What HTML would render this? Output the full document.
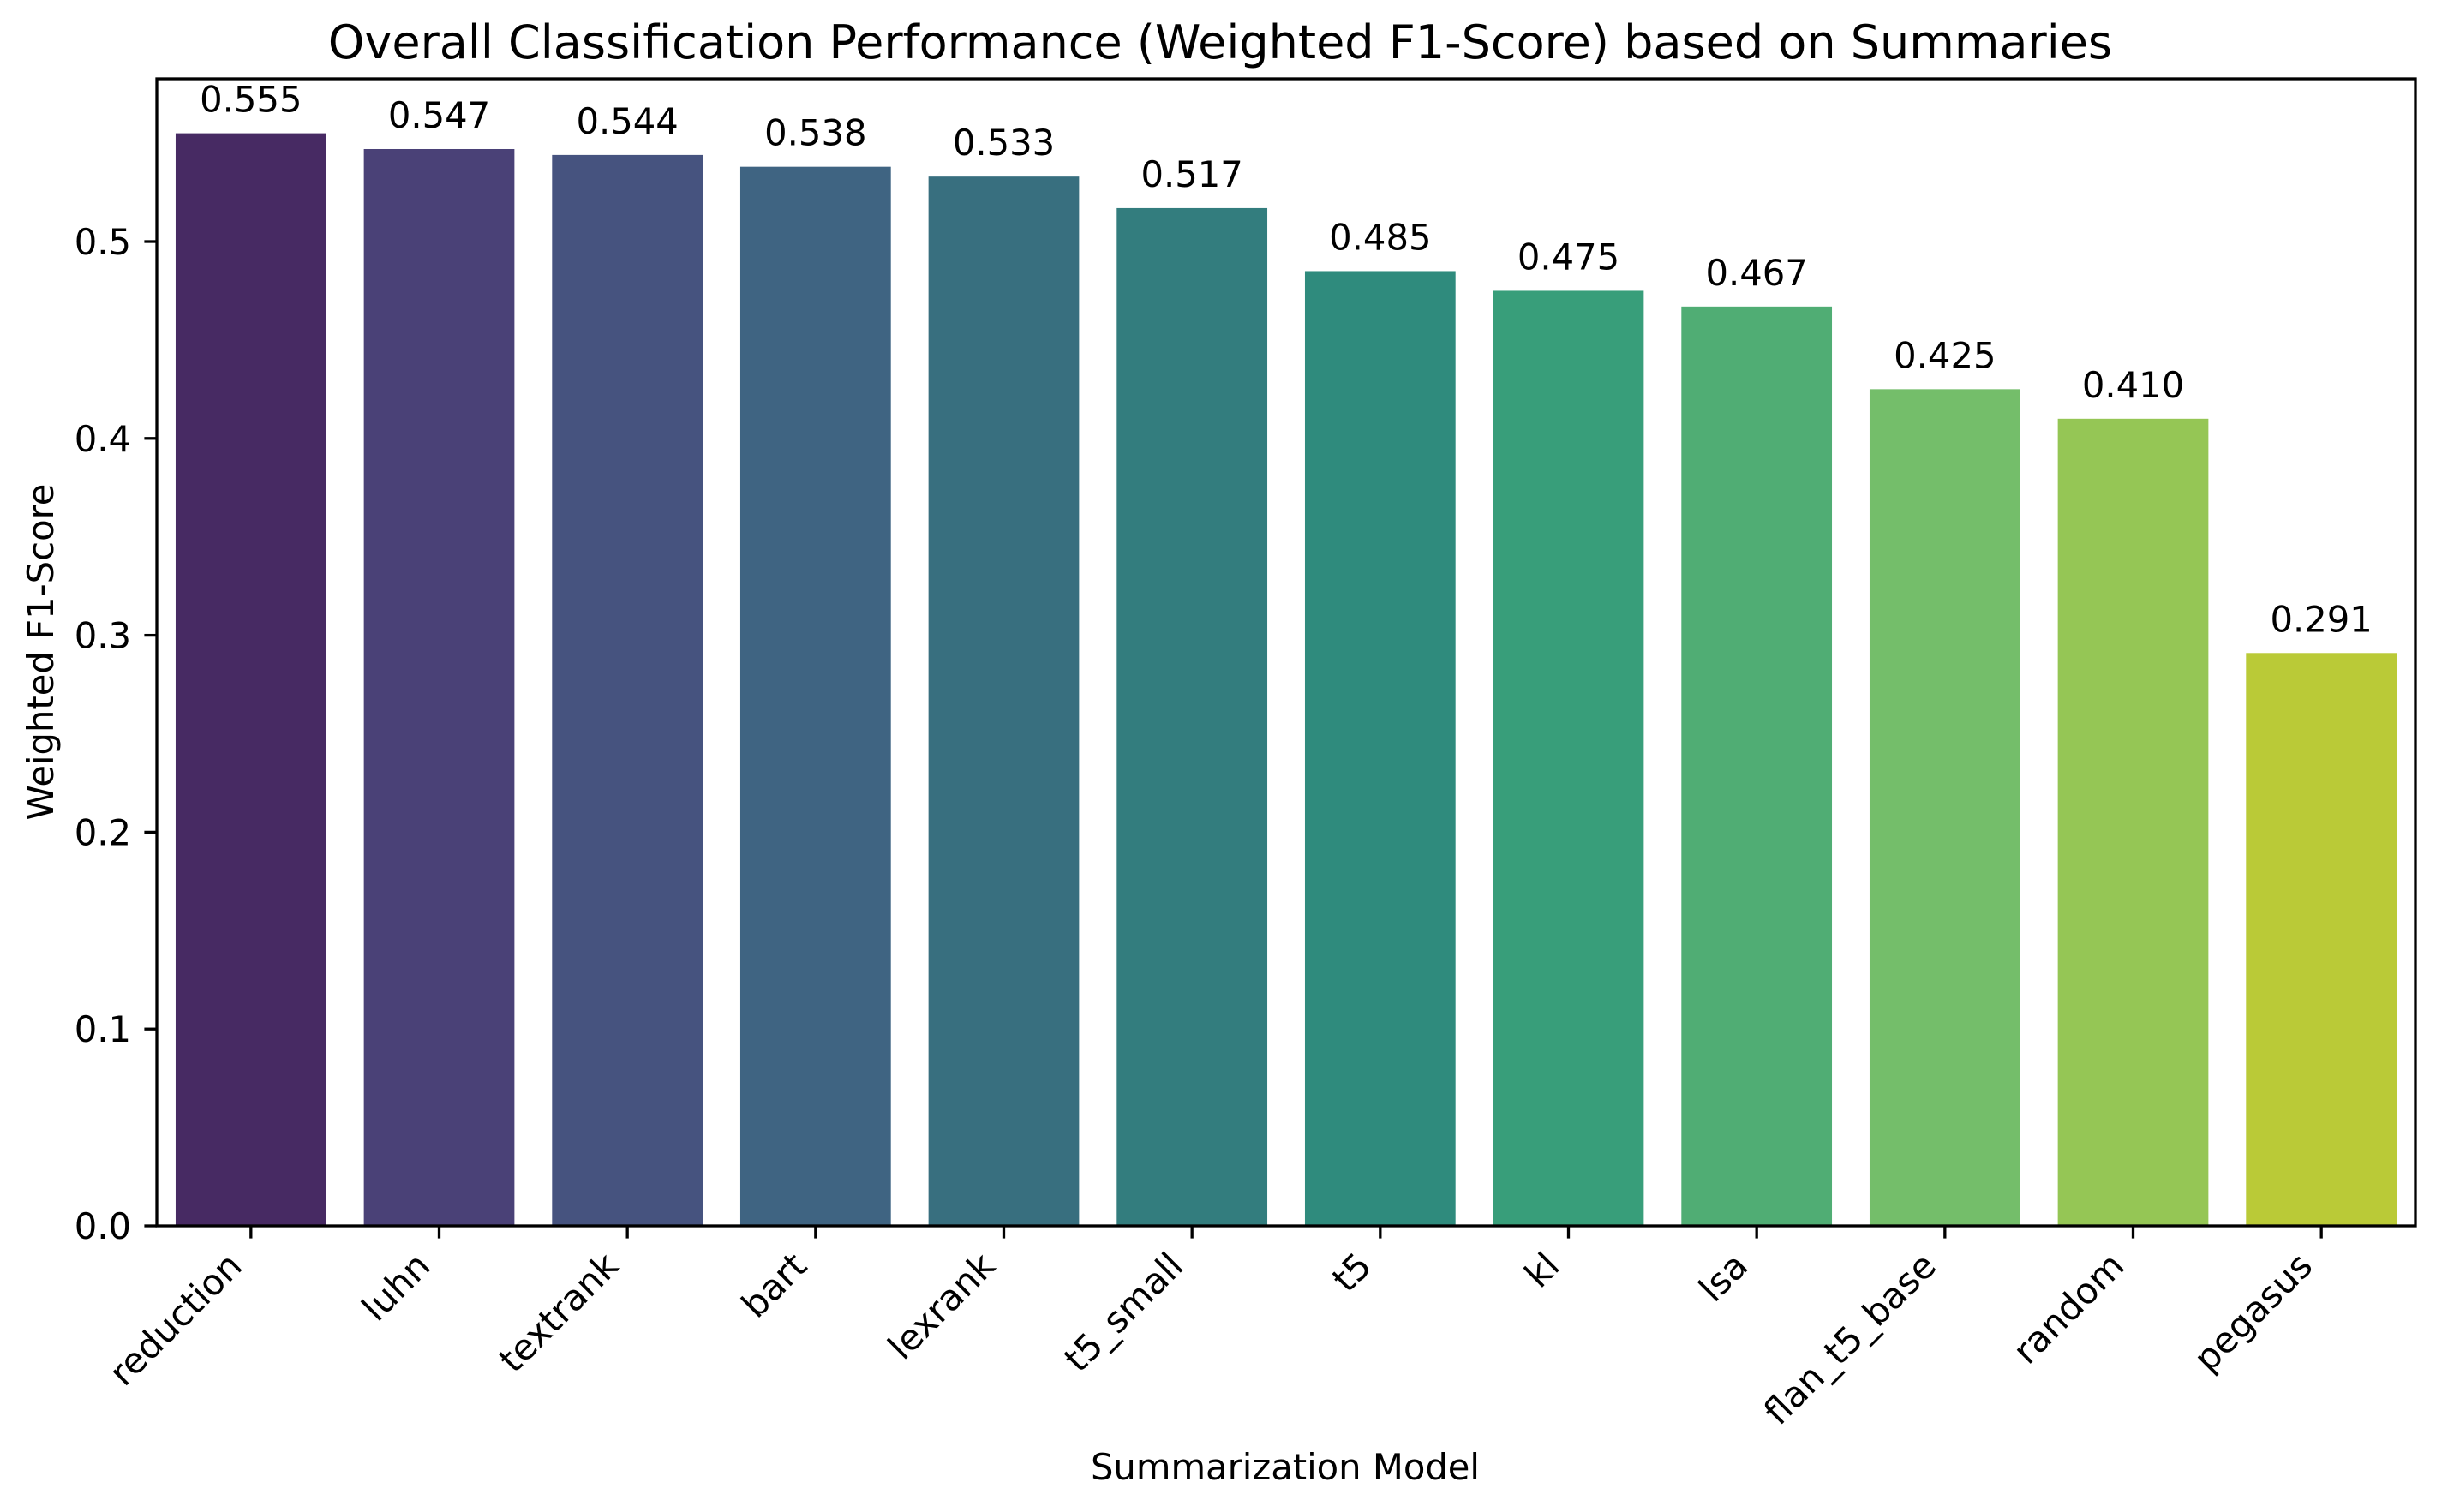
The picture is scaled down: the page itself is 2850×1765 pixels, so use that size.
<!DOCTYPE html>
<html><head><meta charset="utf-8"><style>
html,body{margin:0;padding:0;background:#fff;}
svg{display:block;font-family:"DejaVu Sans","Liberation Sans",sans-serif;}
</style></head><body>
<svg id="chart" width="2850" height="1765" viewBox="0 0 2850 1765" xmlns="http://www.w3.org/2000/svg">
<rect x="0" y="0" width="2850" height="1765" fill="#ffffff"/>
<text x="1424" y="68" font-size="54" text-anchor="middle" fill="#000">Overall Classification Performance (Weighted F1-Score) based on Summaries</text>
<text transform="translate(62,761) rotate(-90)" font-size="41.7" text-anchor="middle" fill="#000">Weighted F1-Score</text>
<text x="1500" y="1727" font-size="41.7" text-anchor="middle" fill="#000">Summarization Model</text>
<g id="bars"></g>
<g id="yaxis"></g>
<g id="xaxis"></g>
<g id="labels"></g>
<rect x="183" y="92" width="2636" height="1339" fill="none" stroke="#000" stroke-width="3.3"/>
</svg>
<script>
const categories = ["reduction","luhn","textrank","bart","lexrank","t5_small","t5","kl","lsa","flan_t5_base","random","pegasus"];
const values = [0.555,0.547,0.544,0.538,0.533,0.517,0.485,0.475,0.467,0.425,0.410,0.291];
const valueLabels = ["0.555","0.547","0.544","0.538","0.533","0.517","0.485","0.475","0.467","0.425","0.410","0.291"];
const yTicks = [0.0,0.1,0.2,0.3,0.4,0.5];
const yTickLabels = ["0.0","0.1","0.2","0.3","0.4","0.5"];
const colors = ["#472A63","#4A4177","#46537F","#3F6482","#386F7F","#337D7E","#2F8B7D","#389E7A","#50AD74","#74BE6A","#95C655","#BACA37"];

const NS = "http://www.w3.org/2000/svg";
const L = 183, R = 2819, T = 92, B = 1431;
const yMax = (B - T) / 2298;
function yScale(v){ return B - (v / yMax) * (B - T); }
const slot = (R - L) / categories.length;
function xCenter(i){ return L + slot * (i + 0.5); }
const barW = slot * 0.8;

const gb = document.getElementById('bars');
const gl = document.getElementById('labels');
const gx = document.getElementById('xaxis');
const gy = document.getElementById('yaxis');

values.forEach((v, i) => {
  const r = document.createElementNS(NS, 'rect');
  r.setAttribute('x', xCenter(i) - barW / 2);
  r.setAttribute('y', yScale(v));
  r.setAttribute('width', barW);
  r.setAttribute('height', B - yScale(v));
  r.setAttribute('fill', colors[i]);
  
  
  gb.appendChild(r);

  const t = document.createElementNS(NS, 'text');
  t.setAttribute('x', xCenter(i));
  t.setAttribute('y', yScale(v) - 25);
  t.setAttribute('font-size', '41.7');
  t.setAttribute('text-anchor', 'middle');
  t.textContent = valueLabels[i];
  
  
  gl.appendChild(t);

  const tk = document.createElementNS(NS, 'line');
  tk.setAttribute('x1', xCenter(i)); tk.setAttribute('x2', xCenter(i));
  tk.setAttribute('y1', B); tk.setAttribute('y2', B + 14.6);
  tk.setAttribute('stroke', '#000'); tk.setAttribute('stroke-width', '3.3');
  
  
  gx.appendChild(tk);

  const xl = document.createElementNS(NS, 'text');
  const x0 = xCenter(i) - 8, y0 = B + 29.2 + 20;
  xl.setAttribute('transform', 'translate(' + x0 + ',' + y0 + ') rotate(-45)');
  xl.setAttribute('font-size', '41.7');
  xl.setAttribute('text-anchor', 'end');
  xl.textContent = categories[i];
  
  
  gx.appendChild(xl);
});

yTicks.forEach((v, i) => {
  const y = yScale(v);
  const tk = document.createElementNS(NS, 'line');
  tk.setAttribute('x1', L - 14.6); tk.setAttribute('x2', L);
  tk.setAttribute('y1', y); tk.setAttribute('y2', y);
  tk.setAttribute('stroke', '#000'); tk.setAttribute('stroke-width', '3.3');
  
  
  gy.appendChild(tk);

  const t = document.createElementNS(NS, 'text');
  t.setAttribute('x', L - 30);
  t.setAttribute('y', y + 15);
  t.setAttribute('font-size', '41.7');
  t.setAttribute('text-anchor', 'end');
  t.textContent = yTickLabels[i];
  
  
  gy.appendChild(t);
});
</script>
</body></html>
